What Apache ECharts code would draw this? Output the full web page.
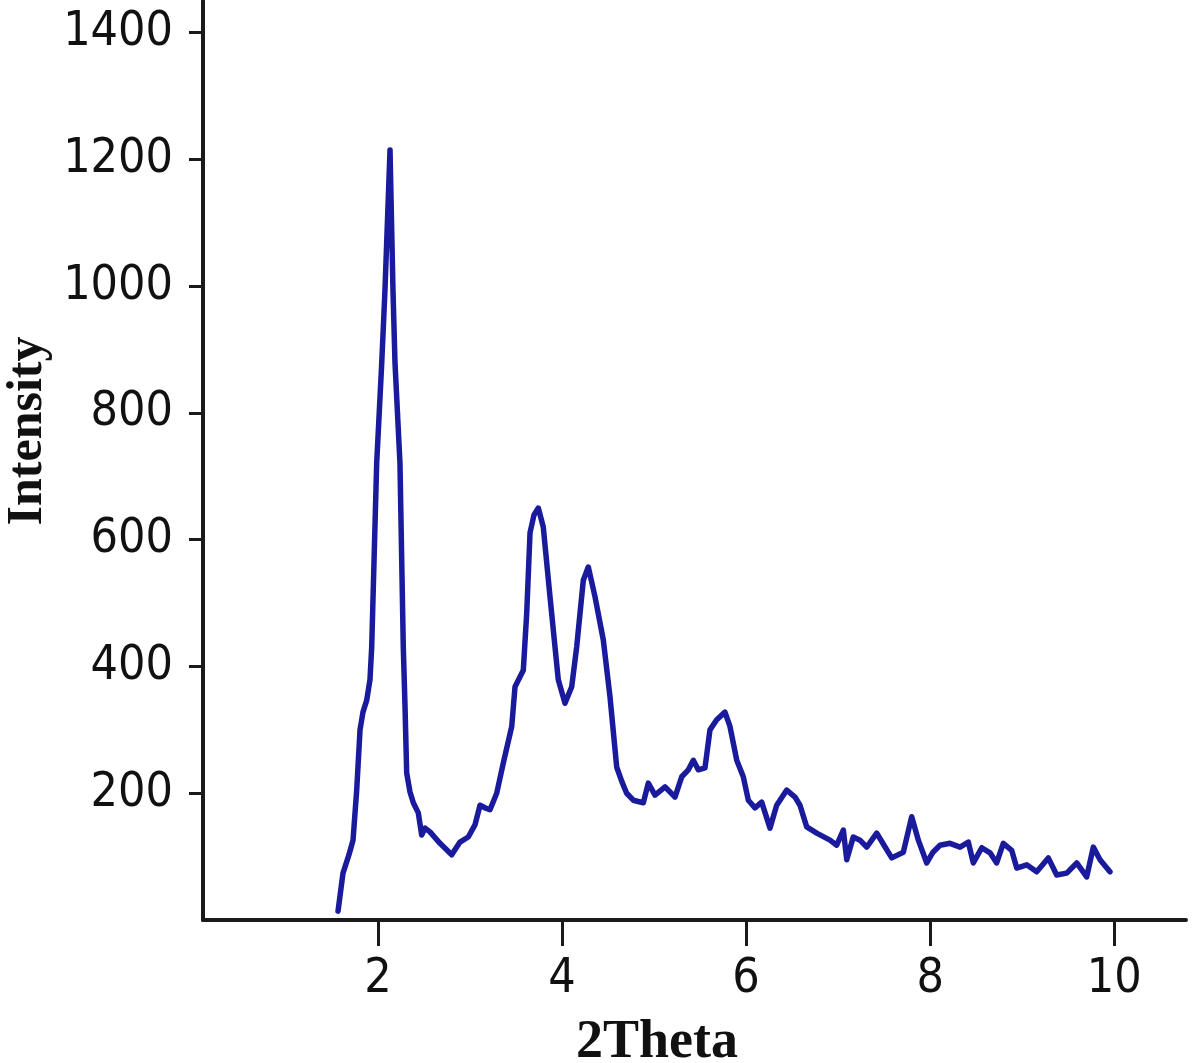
<!DOCTYPE html>
<html>
<head>
<meta charset="utf-8">
<script src="https://cdn.jsdelivr.net/npm/echarts@6/dist/echarts.min.js"></script>
<style>
html,body{margin:0;padding:0;background:#fff;}
#c{width:1200px;height:1063px;}
</style>
</head>
<body>
<div id="c"></div>
<script>
var twoTheta = [1.567,1.621,1.686,1.730,1.770,1.806,1.838,1.879,1.914,1.933,1.987,2.042,2.077,2.132,2.164,2.186,2.240,2.276,2.295,2.313,2.349,2.385,2.439,2.476,2.512,2.566,2.675,2.802,2.892,2.982,3.055,3.110,3.164,3.218,3.291,3.363,3.454,3.490,3.580,3.617,3.653,3.696,3.743,3.797,3.870,3.960,4.033,4.106,4.160,4.232,4.286,4.359,4.449,4.522,4.595,4.652,4.703,4.775,4.884,4.938,5.011,5.120,5.228,5.301,5.373,5.427,5.481,5.554,5.608,5.681,5.771,5.826,5.899,5.970,6.025,6.097,6.170,6.260,6.333,6.442,6.532,6.586,6.659,6.768,6.912,6.985,7.057,7.094,7.165,7.238,7.311,7.420,7.499,7.583,7.709,7.800,7.872,7.963,8.031,8.107,8.216,8.325,8.415,8.469,8.561,8.651,8.723,8.795,8.886,8.941,9.049,9.158,9.284,9.375,9.484,9.593,9.701,9.773,9.846,9.954];
var intensity = [14,74,103,126,205,300,328,347,379,431,721,879,994,1215,994,879,721,431,336,232,202,185,169,134,145,139,121,103,123,131,150,181,177,174,200,248,305,368,394,484,611,639,650,620,510,379,342,368,431,536,557,510,442,352,241,218,200,189,185,216,197,210,194,226,237,252,237,240,300,316,328,305,252,226,189,177,186,145,181,205,194,181,147,137,126,118,142,95,131,126,115,137,118,98,107,163,126,90,107,118,121,115,123,90,114,106,90,121,110,82,87,76,98,71,74,90,68,115,95,76];
var xTicks = [2,4,6,8,10];
var yTicks = [200,400,600,800,1000,1200,1400];
var xTitle = '2Theta';
var yTitle = 'Intensity';

var pts = twoTheta.map(function(x,i){return [x, intensity[i]];});
var chart = echarts.init(document.getElementById('c'), null, {renderer:'canvas'});
var numFont = "'DejaVu Sans Condensed', 'DejaVu Sans', sans-serif";
function plain(v){ return String(Math.round(v)); }
chart.setOption({
  animation:false,
  backgroundColor:'#ffffff',
  grid:{left:203, right:14, top:1, bottom:143, containLabel:false},
  xAxis:{
    type:'value', min:0.1, max:10.78,
    axisLine:{show:true, onZero:false, lineStyle:{color:'#1a1a1a', width:4}},
    axisTick:{show:true, customValues:xTicks, length:26, lineStyle:{color:'#1a1a1a', width:3}},
    axisLabel:{show:true, customValues:xTicks, formatter:plain, margin:36, color:'#111', fontSize:48, fontFamily:numFont},
    splitLine:{show:false}
  },
  yAxis:{
    type:'value', min:0, max:1450,
    axisLine:{show:true, onZero:false, lineStyle:{color:'#1a1a1a', width:4}},
    axisTick:{show:true, customValues:yTicks, length:14, lineStyle:{color:'#1a1a1a', width:3}},
    axisLabel:{show:true, customValues:yTicks, formatter:plain, margin:30, color:'#111', fontSize:48, fontFamily:numFont},
    splitLine:{show:false}
  },
  graphic:[
    {type:'text', x:657, y:1043, style:{text:xTitle, font:"bold 54px 'Liberation Serif', serif", fill:'#111', align:'center', verticalAlign:'middle'}},
    {type:'text', x:28, y:431, rotation:Math.PI/2, style:{text:yTitle, font:"bold 50px 'Liberation Serif', serif", fill:'#111', align:'center', verticalAlign:'middle'}}
  ],
  series:[{
    type:'line', data:pts, showSymbol:false, smooth:false,
    lineStyle:{color:'#1a1a9c', width:5.5, cap:'round', join:'round'}
  }]
});
</script>
</body>
</html>
